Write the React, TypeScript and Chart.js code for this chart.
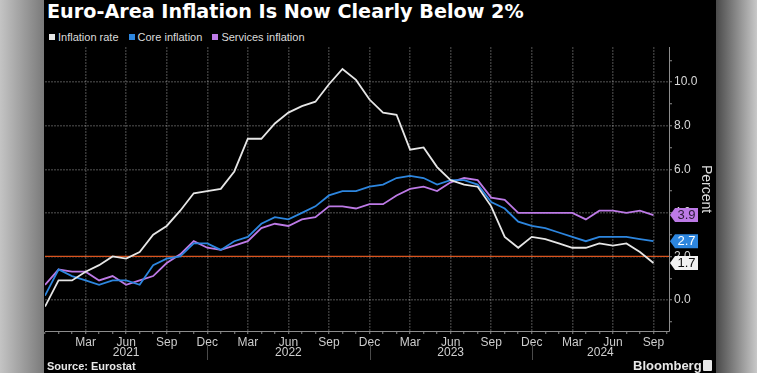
import React, { useEffect, useRef } from "react";
import { Chart, registerables } from "chart.js";

Chart.register(...registerables);

// Monthly observations, Dec 2020 .. Sep 2024
const months = [
  "Dec 2020",
  "Jan 2021", "Feb 2021", "Mar 2021", "Apr 2021", "May 2021", "Jun 2021",
  "Jul 2021", "Aug 2021", "Sep 2021", "Oct 2021", "Nov 2021", "Dec 2021",
  "Jan 2022", "Feb 2022", "Mar 2022", "Apr 2022", "May 2022", "Jun 2022",
  "Jul 2022", "Aug 2022", "Sep 2022", "Oct 2022", "Nov 2022", "Dec 2022",
  "Jan 2023", "Feb 2023", "Mar 2023", "Apr 2023", "May 2023", "Jun 2023",
  "Jul 2023", "Aug 2023", "Sep 2023", "Oct 2023", "Nov 2023", "Dec 2023",
  "Jan 2024", "Feb 2024", "Mar 2024", "Apr 2024", "May 2024", "Jun 2024",
  "Jul 2024", "Aug 2024", "Sep 2024",
];

const inflationRate = [
  -0.3,
  0.9, 0.9, 1.3, 1.6, 2.0, 1.9, 2.2, 3.0, 3.4, 4.1, 4.9, 5.0,
  5.1, 5.9, 7.4, 7.4, 8.1, 8.6, 8.9, 9.1, 9.9, 10.6, 10.1, 9.2,
  8.6, 8.5, 6.9, 7.0, 6.1, 5.5, 5.3, 5.2, 4.3, 2.9, 2.4, 2.9,
  2.8, 2.6, 2.4, 2.4, 2.6, 2.5, 2.6, 2.2, 1.7,
];

const coreInflation = [
  0.2,
  1.4, 1.1, 0.9, 0.7, 0.9, 0.9, 0.7, 1.6, 1.9, 2.0, 2.6, 2.6,
  2.3, 2.7, 2.9, 3.5, 3.8, 3.7, 4.0, 4.3, 4.8, 5.0, 5.0, 5.2,
  5.3, 5.6, 5.7, 5.6, 5.3, 5.5, 5.5, 5.3, 4.5, 4.2, 3.6, 3.4,
  3.3, 3.1, 2.9, 2.7, 2.9, 2.9, 2.9, 2.8, 2.7,
];

const servicesInflation = [
  0.7,
  1.4, 1.3, 1.3, 0.9, 1.1, 0.7, 0.9, 1.1, 1.7, 2.1, 2.7, 2.4,
  2.3, 2.5, 2.7, 3.3, 3.5, 3.4, 3.7, 3.8, 4.3, 4.3, 4.2, 4.4,
  4.4, 4.8, 5.1, 5.2, 5.0, 5.4, 5.6, 5.5, 4.7, 4.6, 4.0, 4.0,
  4.0, 4.0, 4.0, 3.7, 4.1, 4.1, 4.0, 4.1, 3.9,
];

const targetLevel = [2.0];

const quarterMonths = ["Mar", "Jun", "Sep", "Dec"];
const yearLabels = ["2021", "2022", "2023", "2024"];
const yMajorTicks = [0, 2, 4, 6, 8, 10];
const yMinorTicks = [-1, 1, 3, 5, 7, 9, 11];

const X_MIN = 0;
const X_MAX = months.length - 1 + 1.15;
const Y_MIN = -1.42;
const Y_MAX = 11.61;

const SANS = "'Liberation Sans', Arial, sans-serif";
const GRID = "rgba(255,255,255,0.22)";
const AXIS = "#8c8c8c";

const COLORS = {
  headline: "#e6e6e6",
  core: "#2d86df",
  services: "#bd7ae6",
  target: "#d8541f",
};

function monthName(i: number): string {
  const m = months[i];
  return m ? m.split(" ")[0] : "";
}

function isQuarterLabel(i: number): boolean {
  return i > 0 && i < months.length && quarterMonths.includes(monthName(i));
}

const annotationsPlugin = {
  id: "annotations",
  afterDraw(chart: any) {
    const { ctx, chartArea } = chart;
    const x = chart.scales.x;
    const y = chart.scales.y;
    ctx.save();

    // year separators and labels
    const decIdx: number[] = [];
    months.forEach((m, i) => {
      if (m.startsWith("Dec")) decIdx.push(i);
    });
    const bounds = [...decIdx, X_MAX];
    for (let k = 0; k < yearLabels.length; k++) {
      const a = bounds[k];
      const b = bounds[k + 1];
      if (b === undefined) break;
      const cx = (x.getPixelForValue(a) + x.getPixelForValue(b)) / 2;
      ctx.fillStyle = "#d0d0d0";
      ctx.font = `12px ${SANS}`;
      ctx.textAlign = "center";
      ctx.textBaseline = "middle";
      ctx.fillText(yearLabels[k], cx, 353);
      if (k > 0) {
        const sx = Math.round(x.getPixelForValue(a)) + 0.5;
        ctx.strokeStyle = "#4a4a4a";
        ctx.lineWidth = 1;
        ctx.beginPath();
        ctx.moveTo(sx, 344);
        ctx.lineTo(sx, 360);
        ctx.stroke();
      }
    }

    // last-value tags on the right axis
    const tags = [
      { v: servicesInflation[servicesInflation.length - 1], bg: COLORS.services, fg: "#2a1a36" },
      { v: coreInflation[coreInflation.length - 1], bg: COLORS.core, fg: "#ffffff" },
      { v: inflationRate[inflationRate.length - 1], bg: "#f2f2f2", fg: "#111111" },
    ];
    const px = chartArea.right;
    tags.forEach((t) => {
      const py = y.getPixelForValue(t.v);
      ctx.fillStyle = t.bg;
      ctx.beginPath();
      ctx.moveTo(px + 1, py);
      ctx.lineTo(px + 6, py - 7);
      ctx.lineTo(px + 29, py - 7);
      ctx.lineTo(px + 29, py + 7);
      ctx.lineTo(px + 6, py + 7);
      ctx.closePath();
      ctx.fill();
      ctx.fillStyle = t.fg;
      ctx.font = `13px ${SANS}`;
      ctx.textAlign = "center";
      ctx.textBaseline = "middle";
      ctx.fillText(t.v.toFixed(1), px + 17.5, py + 0.5);
    });
    ctx.restore();
  },
};

export default function App() {
  const ref = useRef<HTMLCanvasElement>(null);

  useEffect(() => {
    if (!ref.current) return;
    const pts = (arr: number[]) => arr.map((v, i) => ({ x: i, y: v }));
    const line = (label: string, data: number[], color: string) => ({
      label,
      data: pts(data),
      borderColor: color,
      backgroundColor: color,
      borderWidth: 1.8,
      pointRadius: 0,
      tension: 0,
      fill: false,
    });
    const chart = new Chart(ref.current, {
      type: "line",
      data: {
        datasets: [
          line("Inflation rate", inflationRate, COLORS.headline),
          line("Core inflation", coreInflation, COLORS.core),
          line("Services inflation", servicesInflation, COLORS.services),
          {
            label: "Target",
            data: [
              { x: X_MIN, y: targetLevel[0] },
              { x: X_MAX, y: targetLevel[0] },
            ],
            borderColor: COLORS.target,
            borderWidth: 1.3,
            pointRadius: 0,
            fill: false,
          } as any,
        ],
      },
      options: {
        responsive: false,
        animation: false,
        devicePixelRatio: 1,
        layout: { padding: { top: 47, left: 1, right: 0, bottom: 0 }, autoPadding: false } as any,
        plugins: {
          legend: { display: false },
          title: { display: false },
          tooltip: { enabled: false },
        },
        scales: {
          x: {
            type: "linear",
            min: X_MIN,
            max: X_MAX,
            afterBuildTicks: (s: any) => {
              s.ticks = months.map((_, i) => ({ value: i })).concat([{ value: months.length }]);
            },
            afterFit: (s: any) => {
              s.height = 42;
            },
            ticks: {
              autoSkip: false,
              maxRotation: 0,
              minRotation: 0,
              color: "#cccccc",
              font: { family: SANS, size: 12 },
              padding: 1,
              callback: (v: any) => (isQuarterLabel(Number(v)) ? monthName(Number(v)) : ""),
            },
            grid: {
              color: (c: any) => (c.tick && isQuarterLabel(c.tick.value) ? GRID : "rgba(0,0,0,0)"),
              tickColor: AXIS,
              tickLength: 3,
              tickWidth: 1,
              tickBorderDash: [],
              lineWidth: 1.5,
            },
            border: { color: AXIS, width: 1, dash: [2, 1] },
          },
          y: {
            type: "linear",
            position: "right",
            min: Y_MIN,
            max: Y_MAX,
            afterBuildTicks: (s: any) => {
              s.ticks = [...yMajorTicks, ...yMinorTicks].sort((a, b) => a - b).map((v) => ({ value: v }));
            },
            afterFit: (s: any) => {
              s.width = 47;
            },
            ticks: {
              color: "#d8d8d8",
              font: { family: SANS, size: 12 },
              padding: 2,
              callback: (v: any) => (yMajorTicks.includes(Number(v)) ? Number(v).toFixed(1) : ""),
            },
            grid: {
              color: (c: any) => (c.tick && yMajorTicks.includes(c.tick.value) ? GRID : "rgba(0,0,0,0)"),
              tickColor: AXIS,
              tickLength: 3,
              tickWidth: 1,
              tickBorderDash: [],
              lineWidth: 1.5,
            },
            border: { color: AXIS, width: 1, dash: [2, 1] },
            title: {
              display: true,
              text: "Percent",
              color: "#dcdcdc",
              font: { family: SANS, size: 14 },
              padding: { top: 2, bottom: 0 },
            },
          },
        },
      } as any,
      plugins: [annotationsPlugin],
    });
    return () => chart.destroy();
  }, []);

  const legendItems = [
    { label: "Inflation rate", color: COLORS.headline },
    { label: "Core inflation", color: COLORS.core },
    { label: "Services inflation", color: COLORS.services },
  ];

  return (
    <div
      style={{
        position: "fixed",
        left: 0,
        top: 0,
        width: 757,
        height: 373,
        overflow: "hidden",
        background: "linear-gradient(90deg, #c4c4c4 0px, #7a7a7a 44px, #000 44px, #000 716px, #4a4a4a 716px, #c8c8c8 757px)",
      }}
    >
      <div
        style={{
          position: "absolute",
          left: 47,
          top: 2,
          font: "bold 19.2px 'DejaVu Sans', Verdana, sans-serif",
          lineHeight: "19px",
          color: "#ffffff",
          whiteSpace: "nowrap",
        }}
      >
        Euro-Area Inflation Is Now Clearly Below 2%
      </div>
      <div
        style={{
          position: "absolute",
          left: 49,
          top: 30,
          height: 14,
          display: "flex",
          alignItems: "center",
          font: `11px ${SANS}`,
          color: "#dcdcdc",
          whiteSpace: "nowrap",
        }}
      >
        {legendItems.map((it, i) => (
          <span key={i} style={{ display: "flex", alignItems: "center", marginRight: 10 }}>
            <span style={{ width: 6, height: 6, background: it.color, marginRight: 3, display: "inline-block" }} />
            {it.label}
          </span>
        ))}
      </div>
      <canvas
        ref={ref}
        width={672}
        height={373}
        style={{ position: "absolute", left: 44, top: 0, width: 672, height: 373 }}
      />
      <div
        style={{
          position: "absolute",
          left: 47,
          top: 361,
          font: `bold 11px ${SANS}`,
          lineHeight: "11px",
          color: "#e8e8e8",
          whiteSpace: "nowrap",
        }}
      >
        Source: Eurostat
      </div>
      <div
        style={{
          position: "absolute",
          left: 633,
          top: 359,
          font: `bold 13px ${SANS}`,
          lineHeight: "13px",
          color: "#e8e8e8",
          whiteSpace: "nowrap",
        }}
      >
        Bloomberg
      </div>
      <div
        style={{
          position: "absolute",
          left: 703,
          top: 360,
          width: 9,
          height: 11,
          background: "#e8e8e8",
          borderRadius: 1,
        }}
      />
    </div>
  );
}
